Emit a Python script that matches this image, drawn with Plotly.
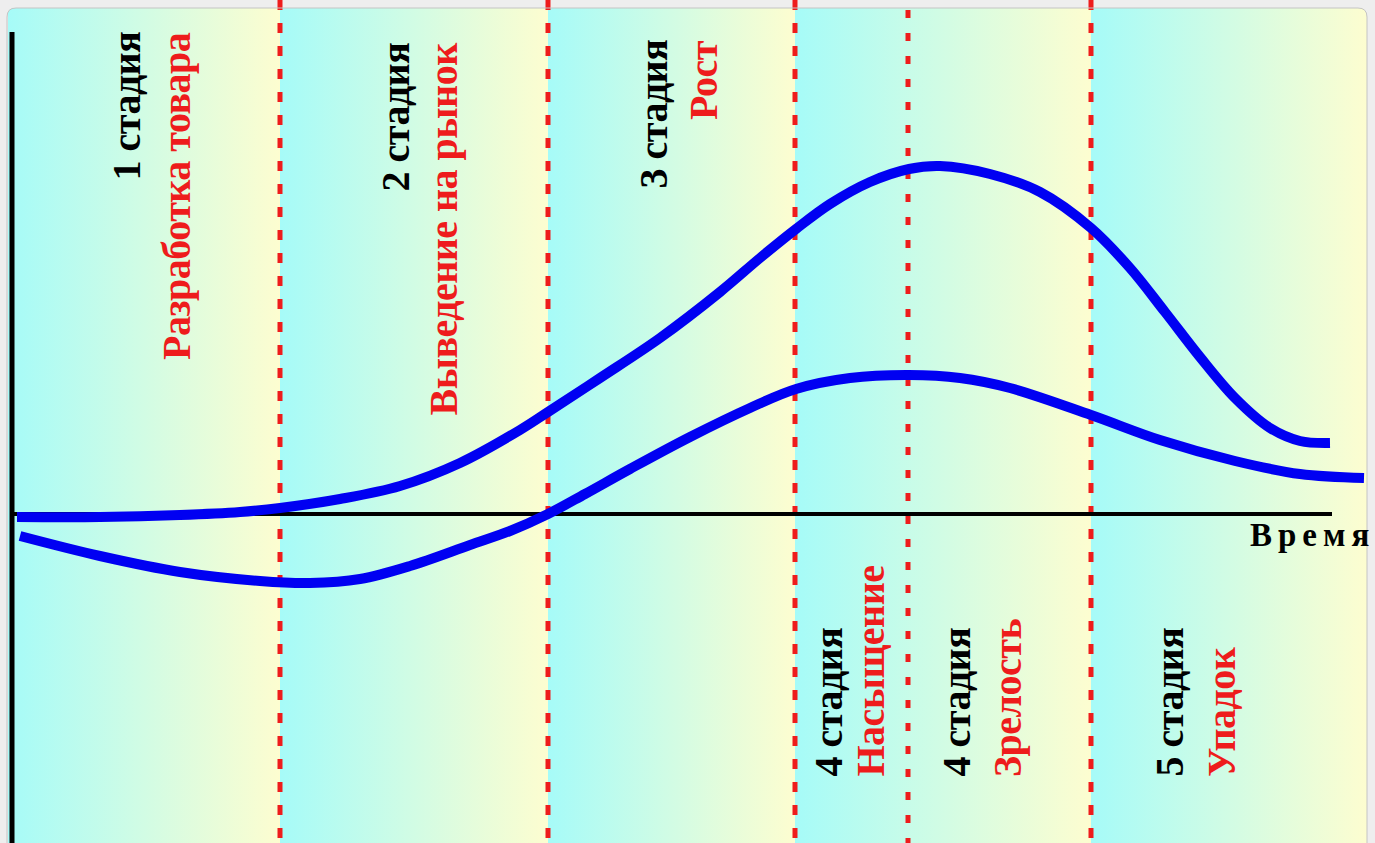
import plotly.graph_objects as go

# ---- data ---------------------------------------------------------------
# time positions of the stage boundaries (red dashed separators)
stage_bounds = [280, 548, 795, 908, 1091]

# background bands: each one fades from cyan to cream
bands = [(8, 280), (280, 548), (548, 795), (795, 1091), (1091, 1367)]

# sales volume over time
sales_t = [17, 100, 180, 240, 280, 340, 400, 460, 520, 548, 600, 660, 720, 760,
           796, 830, 870, 909, 940, 990, 1040, 1091, 1130, 1165, 1200, 1235,
           1270, 1300, 1330]
sales_v = [-3, -3, -1, 2, 6, 15, 28, 51, 84, 102, 136, 176, 222, 256,
           285, 310, 332, 345, 348, 340, 322, 286, 246, 202, 157, 116,
           86, 73, 71]

# profit over time
profit_t = [20, 100, 180, 260, 310, 360, 410, 470, 510, 548, 585, 630, 690, 750,
            796, 850, 909, 960, 1010, 1091, 1160, 1235, 1300, 1364]
profit_v = [-22, -42, -58, -67, -69, -65, -52, -31, -17, 0, 20, 45, 77, 106,
            125, 136, 139, 136, 126, 99, 74, 53, 40, 36]

# stage captions: (number line, name line)
top_captions = [("1 стадия", "Разработка товара"),
                ("2 стадия", "Выведение на рынок"),
                ("3 стадия", "Рост")]
bottom_captions = [("4 стадия", "Насыщение"),
                   ("4 стадия", "Зрелость"),
                   ("5 стадия", "Упадок")]
axis_label = "Время"

# ---- style --------------------------------------------------------------
CYAN = "#a6fbf8"
CREAM = "#fdfdd0"
RED = "#ee1c1c"
BLUE = "#0000f2"
PAGE = "#eeeeee"
FONT = "Liberation Serif"
CAPTION_SIZE = 40

Y_TOP, Y_BOT = 514, -329          # visible value range
PANEL_TOP = 506

# column centres / anchors of the captions
top_cols = [(126, 176, 484), (395, 443, 473), (653, 703, 476)]
bottom_cols = [(828, 870), (956, 1007), (1169, 1221)]
BOTTOM_Y = -265


def tight(s):
    return f'<span style="letter-spacing:-0.5px">{s}</span>'


fig = go.Figure()

# gradient background bands
for a, b in bands:
    fig.add_trace(go.Scatter(
        x=[a, b, b, a, a], y=[PANEL_TOP, PANEL_TOP, Y_BOT - 20, Y_BOT - 20, PANEL_TOP],
        mode="lines", fill="toself", line=dict(width=0),
        fillgradient=dict(type="horizontal", start=a, stop=b,
                          colorscale=[[0, CYAN], [1, CREAM]]),
        hoverinfo="skip", showlegend=False))

# stage separators
for i, xb in enumerate(stage_bounds):
    top = Y_TOP - 10 if i == 3 else Y_TOP
    dash = "8px,15px" if i == 3 else "10px,13px"
    fig.add_trace(go.Scatter(
        x=[xb, xb], y=[top, Y_BOT], mode="lines",
        line=dict(color=RED, width=5, dash=dash),
        hoverinfo="skip", showlegend=False))

# axes drawn as plain black strokes
fig.add_trace(go.Scatter(x=[12, 1332], y=[0, 0], mode="lines",
                         line=dict(color="black", width=4),
                         hoverinfo="skip", showlegend=False))
fig.add_trace(go.Scatter(x=[12, 12], y=[482, Y_BOT], mode="lines",
                         line=dict(color="black", width=5),
                         hoverinfo="skip", showlegend=False))

# curves
fig.add_trace(go.Scatter(x=sales_t, y=sales_v, mode="lines",
                         line=dict(color=BLUE, width=10, shape="spline", smoothing=1.0),
                         name="Объём продаж", showlegend=False))
fig.add_trace(go.Scatter(x=profit_t, y=profit_v, mode="lines",
                         line=dict(color=BLUE, width=10, shape="spline", smoothing=1.0),
                         name="Прибыль", showlegend=False))

annotations = []
for (num, name), (xn, xt, ytop) in zip(top_captions, top_cols):
    annotations.append(dict(x=xn, y=ytop, text=tight(num), textangle=-90,
                            xanchor="center", yanchor="top", showarrow=False,
                            font=dict(family=FONT, size=CAPTION_SIZE, color="black", weight="bold")))
    annotations.append(dict(x=xt, y=ytop, text=tight(name), textangle=-90,
                            xanchor="center", yanchor="top", showarrow=False,
                            font=dict(family=FONT, size=CAPTION_SIZE, color=RED, weight="bold")))
for (num, name), (xn, xt) in zip(bottom_captions, bottom_cols):
    annotations.append(dict(x=xn, y=BOTTOM_Y, text=tight(num), textangle=-90,
                            xanchor="center", yanchor="bottom", showarrow=False,
                            font=dict(family=FONT, size=CAPTION_SIZE, color="black", weight="bold")))
    annotations.append(dict(x=xt, y=BOTTOM_Y, text=tight(name), textangle=-90,
                            xanchor="center", yanchor="bottom", showarrow=False,
                            font=dict(family=FONT, size=CAPTION_SIZE, color=RED, weight="bold")))

annotations.append(dict(x=1248, y=-1, text=f'<span style="letter-spacing:6px">{axis_label}</span>',
                        xanchor="left", yanchor="top", showarrow=False,
                        font=dict(family=FONT, size=33, color="black", weight="bold")))

# rounded panel corners and frame
shapes = [
    dict(type="path", path=f"M 6,{PANEL_TOP + 1} L 16,{PANEL_TOP + 1} Q 7,{PANEL_TOP} 7,{PANEL_TOP - 9} Z",
         fillcolor=PAGE, line=dict(width=0), layer="above"),
    dict(type="path", path=f"M 1368,{PANEL_TOP + 1} L 1358,{PANEL_TOP + 1} Q 1367,{PANEL_TOP} 1367,{PANEL_TOP - 9} Z",
         fillcolor=PAGE, line=dict(width=0), layer="above"),
    dict(type="path",
         path=f"M 7,{Y_BOT - 20} L 7,{PANEL_TOP - 9} Q 7,{PANEL_TOP} 16,{PANEL_TOP} "
              f"L 1358,{PANEL_TOP} Q 1367,{PANEL_TOP} 1367,{PANEL_TOP - 9} L 1367,{Y_BOT - 20}",
         line=dict(color="#c4c4c4", width=1), layer="above"),
]

fig.update_layout(
    width=1375, height=843,
    margin=dict(l=0, r=0, t=0, b=0),
    paper_bgcolor=PAGE, plot_bgcolor=PAGE,
    xaxis=dict(range=[0, 1375], visible=False, fixedrange=True),
    yaxis=dict(range=[Y_BOT, Y_TOP], visible=False, fixedrange=True),
    annotations=annotations, shapes=shapes,
    showlegend=False,
)

fig.write_html("out.html")
